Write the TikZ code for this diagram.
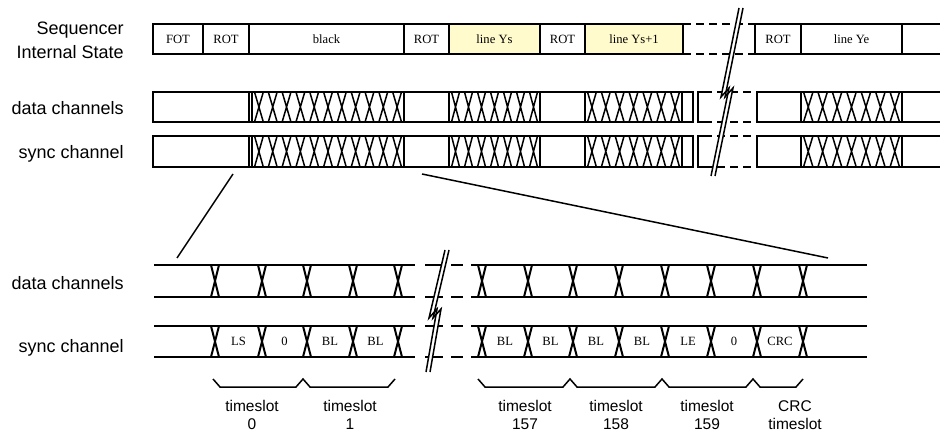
\documentclass[tikz,border=0pt]{standalone}
\usepackage{fontspec}
\setmainfont{Liberation Serif}
\setsansfont{Liberation Sans}
\usetikzlibrary{positioning}
\definecolor{lineyellow}{RGB}{255,251,204}

\begin{document}
\begin{tikzpicture}[x=0.5pt, y=-0.5pt,
    wire/.style={line width=1pt},
    xwire/.style={line width=0.75pt},
    cell/.style={draw, line width=1pt, minimum height=15pt, inner sep=0pt, outer sep=0pt, font=\fontsize{6.3}{7.5}\selectfont},
    brk/.style={line width=1pt, dash pattern=on 4pt off 2.5pt},
    longbrk/.style={line width=1pt, dash pattern=on 9pt off 4pt},
    lbl/.style={inner sep=0pt, font=\fontsize{9}{12}\selectfont\sffamily},
    slotlbl/.style={inner sep=0pt, font=\fontsize{6.3}{7.5}\selectfont},
    tslbl/.style={inner sep=0pt, align=center, font=\fontsize{7.75}{9}\selectfont\sffamily}]
  \useasboundingbox (0,0) rectangle (940,437);

  % row labels
  \node[lbl, align=right, anchor=east] (seq) at (124,40.5) {Sequencer\\Internal State};
  \node[lbl, anchor=base east] (dch) at (124,115) {data channels};
  \node[lbl, anchor=base east] (sch) at (124,159) {sync channel};
  \node[lbl, anchor=base east] (dch2) at (124,290) {data channels};
  \node[lbl, anchor=base east] (sch2) at (124,352) {sync channel};

  % sequencer states
  \node[cell, anchor=west, minimum width=25pt] (fot) at (153,39) {FOT};
  \node[cell, minimum width=23pt, right=0pt of fot] (rot1) {ROT};
  \node[cell, minimum width=77.5pt, right=0pt of rot1] (blk) {black};
  \node[cell, minimum width=22.5pt, right=0pt of blk] (rot2) {ROT};
  \node[cell, minimum width=45.5pt, fill=lineyellow, right=0pt of rot2] (ys) {line Ys};
  \node[cell, minimum width=22.5pt, right=0pt of ys] (rot3) {ROT};
  \node[cell, minimum width=49pt, fill=lineyellow, right=0pt of rot3] (ys1) {line Ys+1};
  \node[cell, minimum width=23pt, right=36pt of ys1] (rot4) {ROT};
  \node[cell, minimum width=50.5pt, right=0pt of rot4] (ye) {line Ye};
  \coordinate (tend1) at (940,24);
  \coordinate (tend2) at (940,54);
  \draw[brk] (ys1.north east) -- (rot4.north west);
  \draw[brk] (ys1.south east) -- (rot4.south west);
  \draw[wire] (tend1) -- (ye.north east) -- (ye.south east) -- (tend2);

  % data and sync channels (overview)
  \foreach \ya/\yb in {92/122,136/167}{
    \draw[wire] (153,\ya) rectangle (249,\yb);
    \draw[xwire] (252,\ya) -- (252,\yb);
    \draw[wire] (249,\ya) rectangle (404,\yb);
    \draw[wire] (404,\ya) rectangle (449,\yb);
    \draw[wire] (449,\ya) rectangle (540,\yb);
    \draw[wire] (540,\ya) rectangle (585,\yb);
    \draw[wire] (585,\ya) rectangle (682,\yb);
    \draw[wire] (682,\ya) rectangle (693,\yb);
    \draw[wire] (704,\ya) -- (698,\ya) -- (698,\yb) -- (704,\yb);
    \draw[brk] (704,\ya) -- (757,\ya) (704,\yb) -- (757,\yb);
    \draw[wire] (757,\ya) rectangle (801,\yb);
    \draw[wire] (801,\ya) rectangle (902,\yb);
    \draw[wire] (940,\ya) -- (902,\ya) -- (902,\yb) -- (940,\yb);
    \foreach \xa/\xb/\nx in {252/404/11,449/540/7,585/682/7,801/902/7}{
      \pgfmathsetmacro\cw{(\xb-\xa)/\nx}
      \foreach \i in {1,...,\nx}{
        \draw[xwire] ({\xa+(\i-1)*\cw+2.5},\ya) -- ({\xa+\i*\cw-2.5},\yb)
                     ({\xa+(\i-1)*\cw+2.5},\yb) -- ({\xa+\i*\cw-2.5},\ya);
      }
    }
  }

  % break mark (overview)
  \fill[white] (739,8) -- (721,97) -- (729,88) -- (711,176) -- (715,176) -- (733,88) -- (725,97) -- (743,8) -- cycle;
  \draw[xwire] (739,8) -- (721,97) -- (729,88) -- (711,176);
  \draw[xwire] (743,8) -- (725,97) -- (733,88) -- (715,176);

  % zoom lines
  \coordinate (zl1) at (233,174);
  \coordinate (zl2) at (177,258);
  \coordinate (zr1) at (422,174);
  \coordinate (zr2) at (828,258);
  \draw[xwire] (zl1) -- (zl2);
  \draw[xwire] (zr1) -- (zr2);

  % data and sync channels (detail)
  \foreach \ya/\yb in {265/297,326/357}{
    \draw[wire] (154,\ya) -- (415,\ya) (154,\yb) -- (415,\yb);
    \draw[longbrk] (425,\ya) -- (463,\ya) (425,\yb) -- (463,\yb);
    \draw[wire] (471,\ya) -- (867,\ya) (471,\yb) -- (867,\yb);
    \foreach \xc in {215,262,307,353,398,482,528,573,619,665,711,757,803}
      \draw[wire] (\xc-4,\ya) -- (\xc+4,\yb) (\xc-4,\yb) -- (\xc+4,\ya);
  }
  \foreach \xc/\lab [count=\k] in {238.5/LS,284.5/0,330/BL,375.5/BL,505/BL,550.5/BL,596/BL,642/BL,688/LE,734/0,780/CRC}
    \node[slotlbl] (sl\k) at (\xc,341.5) {\lab};

  % break mark (detail)
  \fill[white] (445,250) -- (429,318) -- (437,309) -- (426,372) -- (430,372) -- (441,309) -- (433,318) -- (449,250) -- cycle;
  \draw[xwire] (445,250) -- (429,318) -- (437,309) -- (426,372);
  \draw[xwire] (449,250) -- (433,318) -- (441,309) -- (430,372);

  % braces
  \draw[xwire] (213,379) -- (220,387) -- (296,387) -- (303,379) -- (310,387) -- (388,387) -- (395,379);
  \draw[xwire] (478,379) -- (485,387) -- (563,387) -- (570,379) -- (577,387) -- (655,387) -- (662,379)
               -- (669,387) -- (746,387) -- (753,379) -- (760,387) -- (796,387) -- (803,379);

  \node[tslbl] (ts0) at (252,415) {timeslot\\0};
  \node[tslbl] (ts1) at (350,415) {timeslot\\1};
  \node[tslbl] (ts157) at (525,415) {timeslot\\157};
  \node[tslbl] (ts158) at (616,415) {timeslot\\158};
  \node[tslbl] (ts159) at (707,415) {timeslot\\159};
  \node[tslbl] (tscrc) at (795,415) {CRC\\timeslot};
\end{tikzpicture}
\end{document}
